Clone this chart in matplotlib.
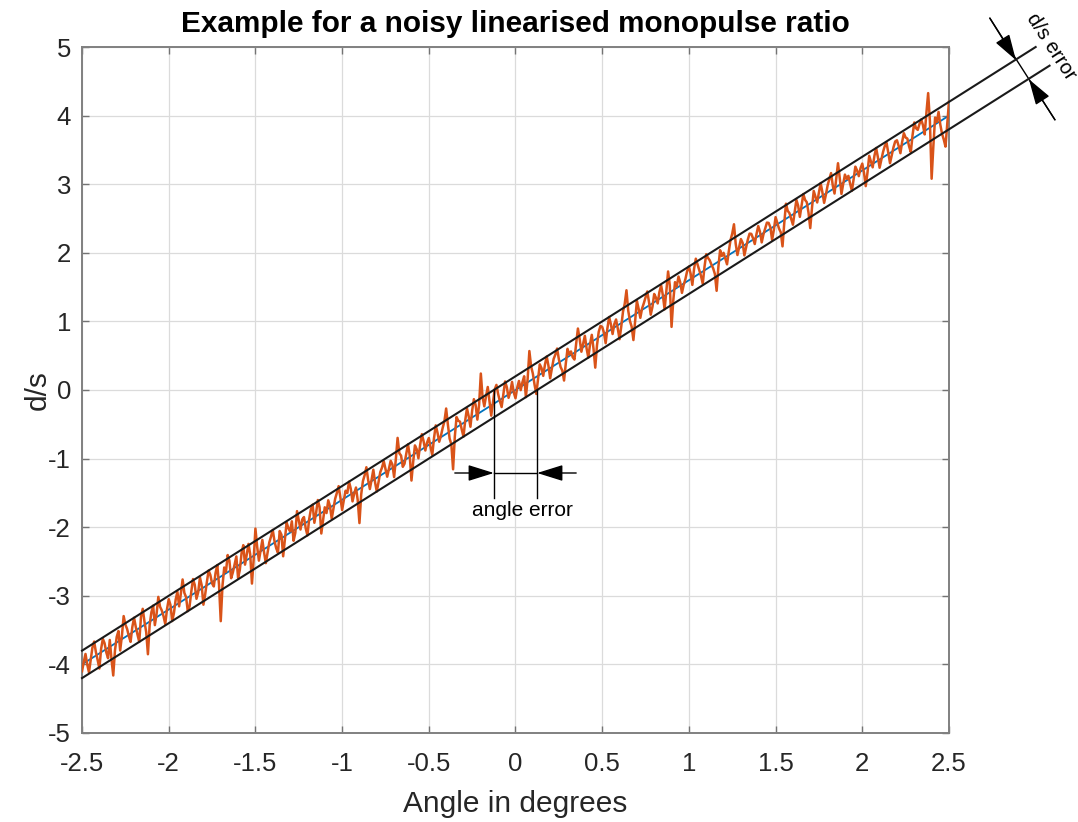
import numpy as np
import matplotlib
matplotlib.use("Agg")
import matplotlib.pyplot as plt

# ---------------------------------------------------------------
# dados
# ---------------------------------------------------------------
angle_range = (-2.5, 2.5)      # graus
slope = 1.6                    # d/s por grau (reta ideal)
band = 0.2                     # meia-largura da faixa de erro d/s

# desvio do sinal ruidoso em relação à reta ideal (passo 0.01°)
deviation = [
    # -2.5 .. -2.0
    -0.10, 0.02, 0.12, -0.05, -0.18, -0.02, 0.15, 0.22, 0.05, -0.08,
    -0.22, 0.05, 0.18, 0.10, -0.05, -0.15, 0.10, -0.20, -0.45, -0.10,
    0.08, 0.15, -0.15, 0.05, 0.32, 0.18, 0.10, -0.02, -0.12, 0.08,
    0.20, 0.05, -0.08, -0.20, 0.15, 0.25, 0.05, -0.12, -0.46, -0.05,
    0.12, 0.20, -0.10, 0.05, 0.28, 0.12, 0.05, -0.05, -0.18, 0.02,
    # -2.0 .. -1.5
    0.15, 0.05, -0.20, -0.10, 0.08, 0.18, -0.05, 0.12, 0.31, 0.10,
    0.02, -0.20, -0.15, 0.05, 0.22, 0.12, -0.10, -0.02, 0.18, 0.05,
    -0.25, -0.12, 0.05, 0.20, 0.12, -0.02, -0.08, 0.10, 0.20, -0.10,
    -0.65, -0.15, 0.10, 0.02, 0.25, 0.15, -0.12, -0.05, 0.05, 0.15,
    -0.18, -0.08, 0.15, 0.25, -0.05, 0.08, 0.22, 0.05, -0.39, -0.05,
    # -1.5 .. -1.0
    0.38, 0.10, -0.12, 0.02, 0.15, -0.05, -0.22, -0.08, 0.05, 0.12,
    0.20, 0.02, -0.10, -0.18, 0.12, 0.05, -0.28, -0.05, 0.18, 0.08,
    0.02, 0.15, -0.15, -0.05, 0.25, 0.10, -0.05, 0.08, 0.10, -0.08,
    -0.20, 0.02, 0.15, 0.20, -0.08, 0.05, 0.22, 0.10, -0.30, -0.12,
    0.05, -0.05, 0.12, 0.02, -0.18, -0.05, 0.08, 0.15, 0.23, 0.05,
    # -1.0 .. -0.5
    -0.15, -0.02, 0.10, 0.05, 0.20, 0.08, -0.12, -0.02, 0.05, -0.15,
    -0.50, -0.10, 0.08, 0.15, 0.25, 0.05, -0.10, 0.02, 0.15, -0.05,
    -0.20, -0.08, 0.05, 0.10, 0.18, 0.05, -0.08, 0.02, 0.12, 0.05,
    -0.15, 0.10, 0.39, 0.15, 0.10, -0.08, -0.05, 0.08, 0.20, 0.02,
    -0.36, -0.10, 0.12, 0.05, -0.10, 0.08, 0.22, 0.10, -0.05, 0.05,
    # -0.5 .. 0.0
    0.10, -0.05, -0.18, 0.05, 0.22, 0.10, -0.05, 0.02, 0.12, 0.20,
    0.37, 0.12, -0.10, -0.20, -0.58, -0.12, 0.15, 0.08, 0.05, -0.08,
    -0.20, 0.02, 0.18, 0.05, -0.12, 0.10, 0.25, 0.15, -0.08, 0.12,
    0.56, 0.20, 0.05, 0.18, 0.30, 0.08, -0.15, 0.02, 0.20, 0.25,
    0.10, -0.02, -0.12, 0.05, 0.22, 0.12, -0.05, 0.02, 0.15, -0.02,
    # 0.0 .. 0.5
    -0.12, 0.02, 0.10, -0.05, 0.05, 0.12, -0.20, 0.05, 0.44, 0.20,
    0.08, -0.10, -0.25, -0.05, 0.15, 0.08, -0.05, 0.10, 0.20, 0.05,
    -0.15, -0.02, 0.10, 0.15, 0.22, 0.05, -0.08, -0.15, -0.31, -0.08,
    0.12, 0.02, 0.05, -0.05, -0.10, 0.12, 0.32, 0.15, -0.05, 0.05,
    0.15, -0.05, -0.20, -0.02, 0.10, -0.12, -0.41, -0.10, 0.08, 0.15,
    # 0.5 .. 1.0
    0.12, 0.02, -0.15, 0.05, 0.20, 0.08, -0.08, 0.05, 0.10, -0.05,
    -0.22, -0.05, 0.15, 0.25, 0.43, 0.12, -0.05, -0.15, -0.36, -0.10,
    0.18, 0.05, -0.10, 0.02, 0.08, 0.15, 0.22, 0.05, -0.15, -0.05,
    0.12, 0.05, -0.05, 0.10, 0.18, 0.02, -0.20, 0.05, 0.32, 0.10,
    -0.52, -0.15, 0.10, 0.02, 0.15, 0.05, -0.12, -0.02, 0.05, 0.15,
    # 1.0 .. 1.5
    0.20, 0.08, -0.10, 0.12, 0.25, 0.15, 0.05, -0.05, -0.18, 0.05,
    0.22, 0.15, 0.10, 0.02, -0.05, -0.15, -0.41, -0.08, 0.15, 0.05,
    0.08, -0.02, -0.12, 0.05, 0.20, 0.28, 0.40, 0.10, -0.08, 0.02,
    0.12, 0.05, -0.15, -0.05, 0.05, 0.12, 0.10, 0.02, -0.08, 0.05,
    0.15, 0.05, -0.12, -0.02, 0.05, 0.12, 0.10, 0.02, -0.18, -0.05,
    # 1.5 .. 2.0
    0.12, 0.02, -0.08, -0.15, -0.37, -0.05, 0.22, 0.10, 0.05, -0.05,
    -0.15, 0.02, 0.18, 0.08, -0.10, 0.05, 0.20, 0.10, 0.05, -0.12,
    -0.36, -0.08, 0.15, 0.05, -0.05, 0.08, 0.20, 0.05, -0.12, -0.02,
    0.10, 0.18, 0.25, 0.05, -0.08, 0.12, 0.33, 0.10, -0.15, -0.02,
    0.10, 0.02, 0.05, -0.08, -0.20, -0.05, 0.12, 0.05, -0.05, 0.05,
    # 2.0 .. 2.5
    0.10, -0.05, -0.26, -0.08, 0.15, 0.05, -0.05, 0.10, 0.20, 0.05,
    -0.12, -0.02, 0.08, 0.15, 0.18, 0.02, -0.15, -0.05, 0.05, 0.12,
    0.12, 0.02, -0.10, 0.05, 0.16, 0.08, 0.05, -0.08, -0.18, 0.05,
    0.22, 0.12, 0.08, 0.15, 0.20, 0.10, -0.05, 0.25, 0.52, 0.10,
    -0.76, -0.30, 0.10, 0.02, 0.15, -0.05, -0.20, -0.30, -0.42, -0.10,
    0.20,
]

x_ticks = [-2.5, -2, -1.5, -1, -0.5, 0, 0.5, 1, 1.5, 2, 2.5]
x_ticklabels = ["-2.5", "-2", "-1.5", "-1", "-0.5", "0", "0.5", "1", "1.5", "2", "2.5"]
y_ticks = [-5, -4, -3, -2, -1, 0, 1, 2, 3, 4, 5]

BLUE = "#0072BD"
ORANGE = "#D95319"

plt.rcParams["font.family"] = ["Liberation Sans", "DejaVu Sans"]
plt.rcParams["axes.unicode_minus"] = False

angle = np.linspace(angle_range[0], angle_range[1], len(deviation))
ideal = slope * angle
noisy = ideal + np.array(deviation)

fig = plt.figure(figsize=(10.78, 8.22), dpi=100)
ax = fig.add_axes([0.0761, 0.1083, 0.8042, 0.8345])

ax.plot(angle, ideal, color=BLUE, lw=1.3, zorder=3)
ax.plot(angle, noisy, color=ORANGE, lw=1.8, zorder=4)

# faixa de erro (retas pretas, prolongadas para fora dos eixos)
xu = np.array([angle_range[0], 3.0])
xl = np.array([angle_range[0], 3.08])
ax.plot(xu, slope * xu + band, color="#1a1a1a", lw=1.5, zorder=5, clip_on=False)
ax.plot(xl, slope * xl - band, color="#1a1a1a", lw=1.5, zorder=5, clip_on=False)

arrow = dict(arrowstyle="-|>,head_length=1.6,head_width=0.5", mutation_scale=10,
             color="k", lw=1, shrinkA=0, shrinkB=0)

# ---- angle error
xe = band / slope
ax.plot([-xe, -xe], [0, -1.57], color="k", lw=1, zorder=5)
ax.plot([xe, xe], [0, -1.57], color="k", lw=1, zorder=5)
ax.plot([-xe, xe], [-1.21, -1.21], color="k", lw=1, zorder=5)
ax.annotate("", xy=(-xe, -1.21), xytext=(-0.35, -1.21), arrowprops=arrow, zorder=5)
ax.annotate("", xy=(xe, -1.21), xytext=(0.35, -1.21), arrowprops=arrow, zorder=5)
ax.text(0.04, -1.76, "angle error", fontsize=15, ha="center", va="center", zorder=6)

# ---- d/s error (fora dos eixos)
ax.plot([2.736, 3.111], [5.42, 3.94], color="k", lw=1, clip_on=False)
ax.annotate("", xy=(2.886, 4.81), xytext=(2.736, 5.42), arrowprops=arrow,
            annotation_clip=False)
ax.annotate("", xy=(2.961, 4.53), xytext=(3.111, 3.94), arrowprops=arrow,
            annotation_clip=False)
ax.text(3.088, 5.01, "d/s error", fontsize=14.5, rotation=-57, rotation_mode="anchor",
        ha="center", va="center", clip_on=False)

ax.set_xlim(angle_range)
ax.set_ylim(-5, 5)
ax.set_xticks(x_ticks)
ax.set_xticklabels(x_ticklabels)
ax.set_yticks(y_ticks)
ax.grid(True, color="0.86", lw=0.9)
ax.set_axisbelow(True)
ax.tick_params(direction="in", length=5, width=1, colors="0.45", labelcolor="#262626",
               labelsize=18.5, top=True, right=True)
ax.tick_params(axis="x", pad=14)
ax.tick_params(axis="y", pad=8)
for s in ax.spines.values():
    s.set_color("0.5")
    s.set_linewidth(1.4)

ax.set_xlabel("Angle in degrees", fontsize=21.5, color="#262626", labelpad=10)
ax.set_ylabel("d/s", fontsize=21.5, color="#262626", labelpad=-3)
ax.set_title("Example for a noisy linearised monopulse ratio", fontsize=21.4,
             fontweight="bold", pad=11)

fig.savefig("out.png", dpi=100)
